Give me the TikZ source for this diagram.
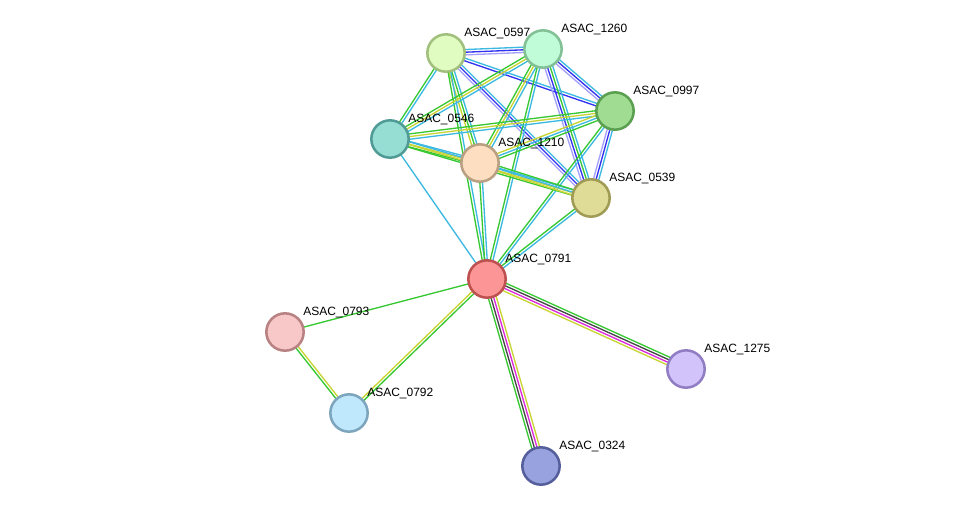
\documentclass[tikz,border=0pt]{standalone}
\usepackage{fontspec}
\setmainfont{Liberation Sans}
\usepackage{tikz}
\usetikzlibrary{calc}
\usepackage{xcolor}

% edge colours
\definecolor{egreen}{RGB}{55,200,50}
\definecolor{eyellow}{RGB}{200,212,50}
\definecolor{ecyan}{RGB}{60,185,225}
\definecolor{eblue}{RGB}{50,50,240}
\definecolor{elav}{RGB}{165,160,250}
\definecolor{eblack}{RGB}{70,70,70}
\definecolor{emag}{RGB}{220,40,220}
% protein colours (fill / border)
\definecolor{f597}{RGB}{224,252,192}  \definecolor{d597}{RGB}{162,192,125}
\definecolor{f1260}{RGB}{192,252,216} \definecolor{d1260}{RGB}{130,192,150}
\definecolor{f997}{RGB}{160,220,145}  \definecolor{d997}{RGB}{90,160,80}
\definecolor{f546}{RGB}{150,222,212}  \definecolor{d546}{RGB}{80,155,150}
\definecolor{f1210}{RGB}{253,222,192} \definecolor{d1210}{RGB}{185,160,130}
\definecolor{f539}{RGB}{222,220,150}  \definecolor{d539}{RGB}{160,155,85}
\definecolor{f791}{RGB}{252,150,150}  \definecolor{d791}{RGB}{190,80,80}
\definecolor{f793}{RGB}{248,200,200}  \definecolor{d793}{RGB}{185,130,130}
\definecolor{f792}{RGB}{192,232,252}  \definecolor{d792}{RGB}{125,165,190}
\definecolor{f1275}{RGB}{210,195,250} \definecolor{d1275}{RGB}{145,125,195}
\definecolor{f324}{RGB}{152,162,222}  \definecolor{d324}{RGB}{85,95,155}

\pgfdeclarelayer{background}
\pgfsetlayers{background,main}

% one edge = a bundle of parallel lines
\newcommand{\link}[3]{%
  \foreach \col [count=\k] in {#3} {\xdef\nlines{\k}}%
  \foreach \col [count=\k] in {#3} {%
    \pgfmathsetmacro{\off}{(\k-(\nlines+1)/2)*2.0}%
    \draw[\col, line width=1pt] ($(#1)!\off pt!90:(#2)$) -- ($(#2)!\off pt!-90:(#1)$);
  }}

\begin{document}
\begin{tikzpicture}[x=0.75pt, y=-0.75pt,
  prot/.style={circle, minimum size=28pt, inner sep=0pt,
    line width=1.9pt, draw=d#1, fill=f#1},
  lbl/.style={anchor=base west, inner sep=0pt, font=\fontsize{9}{11}\selectfont}]
  \useasboundingbox (0,0) rectangle (975,512);

  % proteins
  \node[prot=597] (n597) at (446,53) {};
  \node[prot=1260] (n1260) at (543,49) {};
  \node[prot=997] (n997) at (615,111) {};
  \node[prot=546] (n546) at (390,139) {};
  \node[prot=1210] (n1210) at (480,163) {};
  \node[prot=539] (n539) at (591,198) {};
  \node[prot=791] (n791) at (487,279) {};
  \node[prot=793] (n793) at (285,332) {};
  \node[prot=792] (n792) at (349,413) {};
  \node[prot=1275] (n1275) at (686,369) {};
  \node[prot=324] (n324) at (541,466) {};

  % names
  \node[lbl] (l597) at ($(n597)+(18,-17)$) {ASAC\_0597};
  \node[lbl] (l1260) at ($(n1260)+(18,-17)$) {ASAC\_1260};
  \node[lbl] (l997) at ($(n997)+(18,-17)$) {ASAC\_0997};
  \node[lbl] (l546) at ($(n546)+(18,-17)$) {ASAC\_0546};
  \node[lbl] (l1210) at ($(n1210)+(18,-17)$) {ASAC\_1210};
  \node[lbl] (l539) at ($(n539)+(18,-17)$) {ASAC\_0539};
  \node[lbl] (l791) at ($(n791)+(18,-17)$) {ASAC\_0791};
  \node[lbl] (l793) at ($(n793)+(18,-17)$) {ASAC\_0793};
  \node[lbl] (l792) at ($(n792)+(18,-17)$) {ASAC\_0792};
  \node[lbl] (l1275) at ($(n1275)+(18,-17)$) {ASAC\_1275};
  \node[lbl] (l324) at ($(n324)+(18,-17)$) {ASAC\_0324};

  % interactions
  \begin{pgfonlayer}{background}
    \fill[white] (0,0) rectangle (975,512);
    \link{n597}{n1260}{elav,eblue,ecyan}
    \link{n597}{n997}{eblue,ecyan}
    \link{n597}{n539}{elav,eblue,ecyan}
    \link{n597}{n546}{egreen,ecyan}
    \link{n597}{n1210}{eyellow,egreen,ecyan}
    \link{n597}{n791}{egreen,ecyan}
    \link{n1260}{n997}{elav,eblue,ecyan}
    \link{n1260}{n539}{elav,eblue,egreen,ecyan}
    \link{n1260}{n546}{egreen,eyellow,ecyan}
    \link{n1260}{n1210}{egreen,eyellow,ecyan}
    \link{n1260}{n791}{egreen,ecyan}
    \link{n997}{n546}{egreen,eyellow,ecyan}
    \link{n997}{n1210}{eyellow,ecyan,egreen}
    \link{n997}{n539}{elav,eblue,ecyan}
    \link{n997}{n791}{egreen,ecyan}
    \link{n546}{n1210}{egreen,eyellow,ecyan}
    \link{n546}{n539}{egreen,eyellow,ecyan}
    \link{n546}{n791}{ecyan}
    \link{n1210}{n539}{eyellow,ecyan,egreen}
    \link{n1210}{n791}{egreen,ecyan}
    \link{n539}{n791}{egreen,ecyan}
    \link{n791}{n793}{egreen}
    \link{n791}{n792}{eyellow,egreen}
    \link{n793}{n792}{egreen,eyellow}
    \link{n791}{n1275}{eyellow,emag,eblack,egreen}
    \link{n791}{n324}{egreen,eblack,emag,eyellow}
  \end{pgfonlayer}
\end{tikzpicture}
\end{document}
